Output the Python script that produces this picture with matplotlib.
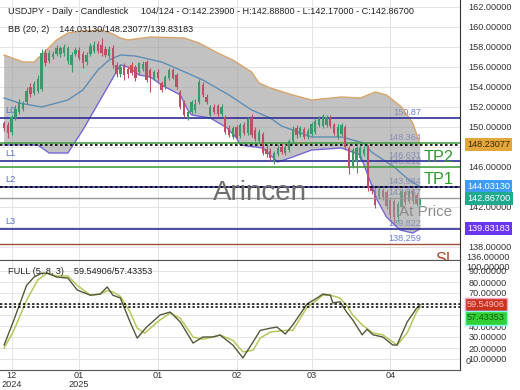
import matplotlib
matplotlib.use("Agg")
import matplotlib.pyplot as plt
from matplotlib.transforms import blended_transform_factory

plt.rcParams['font.family'] = ['Liberation Sans', 'DejaVu Sans']

# daily candles, index = trading day
opens = [150.4, 150.2, 149.5, 150.9, 151.5, 151.8, 152.5, 154.0, 153.4, 153.6,
         153.8, 157.4, 156.6, 157.0, 157.3, 157.3, 157.4, 156.6, 156.2, 157.3,
         157.7, 157.3, 156.5, 157.3, 157.6, 158.3, 158.2, 157.8, 157.1, 157.9,
         156.2, 155.3, 156.1, 155.8, 156.2, 156.0, 155.5, 155.8, 156.5, 155.7,
         154.9, 155.5, 154.4, 154.0, 154.9, 155.7, 155.2, 153.5, 152.5, 150.9,
         151.5, 151.7, 152.5, 154.2, 153.0, 151.2, 152.0, 152.1, 151.3, 151.0,
         149.9, 149.0, 150.0, 149.1, 150.2, 149.4, 150.9, 149.7, 148.6, 149.3,
         147.8, 147.6, 146.6, 147.3, 148.0, 147.4, 147.7, 148.6, 149.9, 149.2,
         149.8, 149.0, 149.3, 149.5, 150.2, 150.1, 150.2, 151.0, 150.2, 149.0,
         149.3, 150.0, 147.9, 146.1, 146.5, 146.9, 147.3, 148.0, 144.0, 143.7,
         143.0, 143.7, 143.5, 142.7, 142.6, 141.0, 142.0, 143.5, 142.6, 143.6,
         143.2, 142.239]
highs = [150.6, 150.5, 151.2, 152.2, 152.8, 152.6, 154.0, 154.4, 154.6, 155.2,
         157.8, 157.8, 157.7, 157.6, 158.2, 158.1, 158.3, 158.1, 157.5, 158.0,
         158.0, 157.6, 157.5, 158.4, 158.6, 158.6, 158.9, 158.1, 158.1, 158.2,
         156.5, 156.3, 156.4, 156.1, 156.5, 156.2, 156.5, 156.6, 156.7, 155.9,
         155.7, 155.8, 154.6, 155.2, 155.9, 155.9, 155.4, 153.7, 152.7, 151.7,
         152.7, 152.8, 154.8, 154.5, 153.3, 152.2, 152.3, 152.3, 152.3, 151.2,
         150.2, 150.1, 150.2, 150.4, 150.5, 151.0, 151.3, 150.0, 149.8, 149.5,
         148.2, 147.9, 147.6, 148.2, 148.3, 148.3, 148.8, 150.1, 150.2, 150.1,
         150.0, 149.9, 150.5, 150.8, 151.1, 151.3, 151.2, 151.2, 150.4, 150.3,
         150.4, 150.2, 148.1, 147.9, 148.1, 148.2, 148.1, 148.2, 144.3, 144.0,
         144.0, 143.9, 143.7, 143.0, 142.8, 142.6, 143.8, 143.7, 143.8, 143.8,
         143.4, 142.888]
lows = [149.6, 148.9, 149.2, 150.7, 151.3, 151.6, 152.3, 153.0, 153.2, 153.4,
        153.6, 156.1, 156.4, 156.8, 157.1, 157.0, 157.1, 156.3, 155.5, 157.1,
        156.7, 155.9, 156.2, 157.1, 157.4, 157.4, 157.1, 157.0, 156.9, 155.9,
        155.0, 155.0, 154.7, 154.9, 155.2, 154.6, 155.3, 155.6, 154.5, 153.5,
        154.7, 154.6, 153.5, 153.8, 154.7, 154.8, 153.8, 151.8, 151.0, 150.7,
        151.3, 151.4, 152.3, 153.0, 152.3, 151.0, 151.3, 151.1, 151.1, 149.3,
        149.0, 148.8, 148.8, 148.9, 149.2, 149.2, 149.0, 148.6, 148.4, 147.2,
        147.0, 146.6, 146.3, 147.1, 147.3, 147.2, 147.5, 148.4, 148.9, 149.0,
        148.8, 148.8, 149.1, 149.3, 150.0, 149.9, 150.0, 149.9, 149.2, 148.8,
        149.1, 147.8, 145.3, 145.9, 145.4, 146.7, 147.1, 143.6, 143.3, 141.9,
        142.8, 142.7, 141.8, 140.8, 140.3, 140.5, 141.8, 142.2, 142.4, 142.3,
        142.1, 142.17]
closes = [149.9, 149.4, 151.0, 151.8, 152.5, 152.3, 153.6, 153.3, 154.3, 154.8,
          157.4, 156.4, 157.4, 157.3, 157.9, 157.9, 158.0, 157.9, 157.2, 157.7,
          156.9, 156.4, 157.2, 158.1, 158.2, 157.6, 157.4, 157.2, 157.8, 156.2,
          155.3, 156.0, 155.2, 155.3, 155.4, 154.9, 156.4, 156.3, 154.7, 154.9,
          155.5, 154.9, 153.7, 155.0, 155.7, 154.9, 154.0, 152.0, 151.2, 151.5,
          152.5, 152.3, 154.5, 153.2, 152.5, 152.0, 151.5, 151.3, 152.0, 149.5,
          149.2, 149.9, 149.0, 150.2, 149.4, 150.8, 149.2, 148.8, 149.5, 147.4,
          147.3, 146.9, 147.4, 147.9, 147.5, 148.0, 148.6, 149.8, 149.2, 149.9,
          149.0, 149.6, 150.3, 150.6, 150.9, 151.1, 151.0, 150.1, 149.4, 150.0,
          150.2, 148.0, 145.9, 147.7, 147.9, 147.9, 147.8, 144.0, 143.6, 142.2,
          143.8, 143.0, 142.1, 141.2, 141.0, 142.3, 143.6, 142.5, 143.6, 142.6,
          142.3, 142.867]
faded_from = 98  # the last candles look washed out under the band

# Bollinger bands (20, 2) read at a few days
upper_days = [0, 5, 8, 10.5, 14, 17, 21, 26, 29, 31, 33, 39, 48, 52, 57, 61,
              66, 68, 71, 77, 82, 90, 95, 99, 102, 106, 109, 111]
upper_vals = [157.2, 156.5, 156.5, 157.4, 158.7, 159.4, 159.6, 159.7, 159.3,
              158.9, 158.7, 159.0, 158.9, 158.4, 157.4, 156.7, 155.5, 154.4,
              153.9, 153.2, 152.7, 153.0, 152.9, 153.5, 153.2, 152.0, 150.4,
              148.23]
mid_days = [0, 4, 10, 17, 21, 25, 28, 31, 35, 42, 47, 53, 60, 66, 71, 74, 77,
            82, 86, 90, 96, 98, 104, 108, 111]
mid_vals = [152.9, 152.4, 152.0, 152.7, 153.7, 155.7, 156.7, 157.2, 157.1,
            156.5, 155.7, 154.7, 153.2, 151.7, 150.9, 150.1, 149.7, 149.0,
            149.0, 149.0, 148.4, 147.5, 146.0, 144.7, 144.03]
lower_days = [0, 9, 12, 17, 21, 31, 33, 36, 39, 42, 47, 49, 50, 55, 59.5, 62,
              63, 69, 73, 77, 82, 90, 95, 99.5, 102, 105.6, 109, 111]
lower_vals = [148.2, 148.2, 147.4, 147.4, 149.7, 156.2, 156.0, 155.2, 155.0,
              154.2, 153.2, 151.7, 151.2, 150.9, 149.9, 148.9, 148.2, 147.9,
              146.5, 147.0, 147.7, 147.9, 147.2, 142.7, 141.0, 139.7, 139.4,
              139.83]
bb_now = [148.23077, 144.03130, 139.83183]
last_close = 142.867

# stochastic FULL (5, 8, 3)
k_days = [0, 2.4, 6, 8, 10, 11.5, 14, 17, 19.5, 23, 25.6, 27.5, 29, 31, 33.6,
          35.5, 38, 41.6, 44.3, 47, 50.4, 53, 55.7, 57.6, 61, 63.7, 66.4, 68.3,
          71, 72.8, 75, 77, 80.8, 83.5, 85, 87, 87.7, 89.6, 91.5, 93, 95.5,
          96.8, 98.4, 101, 103.7, 104.8, 107.5, 110, 111]
k_vals = [22.7, 43.6, 77, 84.5, 88, 88, 84.5, 83.6, 72.7, 68, 69, 75.5, 68,
          65.5, 43.6, 29, 39, 50, 52.7, 43.6, 24.5, 30, 30, 31.8, 22.7, 11,
          25.5, 36, 38, 39, 32.7, 41, 60, 65.5, 69, 68, 61, 62, 52, 45.5, 32,
          37, 32, 30, 22.7, 22.7, 43.6, 56, 59.54906]
d_days = [0, 2.4, 6, 9, 11.5, 14, 17, 19.5, 23, 25.6, 27.5, 29, 31, 33.6, 35.5,
          37.5, 41.6, 44.3, 47, 50.4, 53, 55.7, 57.6, 61, 63.7, 66.4, 68.3, 71,
          75, 77, 80.8, 83.5, 85, 87, 89.6, 91.5, 93, 95.5, 98.4, 101, 103.7,
          104.8, 107.5, 110, 111]
d_vals = [20, 34.5, 63.6, 82, 88, 85.5, 85.5, 77, 68, 69, 72, 71, 67, 52.7, 38,
          33.6, 45.5, 51.8, 47, 30, 28, 30, 31.8, 27, 16.4, 18, 29, 34.5, 36,
          36, 57, 63.6, 68, 68, 65.5, 58, 50, 41, 33.6, 32, 25.5, 22.7, 33.6,
          52.7, 57.43353]

# levels
l_levels = [150.87, 146.631, 143.984, 139.822]
l_names = ['L0', 'L1', 'L2', 'L3']
tp_levels = [148.364, 146.012]
sl_level = 138.259
level_texts = ['150.87', '148.364', '146.631', '146.012', '143.984', '142.867',
               '139.822', '138.259']
level_vals = [150.87, 148.364, 146.631, 146.012, 143.984, 142.867, 139.822,
              138.259]

month_days = [2, 20, 41, 62, 82, 103]
month_labels = ['12\n2024', '01\n2025', '01', '02', '03', '04']
price_ticks = list(range(138, 163, 2))
stoch_ticks = list(range(10, 100, 10))

fs = 6.6
fig = plt.figure(figsize=(5.2, 3.9), dpi=100)
ax = fig.add_axes([0, 130 / 390, 460 / 520, 260 / 390])
ax2 = fig.add_axes([0, 20 / 390, 460 / 520, 110 / 390])

for a in (ax, ax2):
    a.set_xlim(-1.1, 121.6)
    a.spines['left'].set_visible(False)
    a.spines['top'].set_visible(False)
    a.spines['right'].set_color('#333333')
    a.spines['bottom'].set_color('#555555')
    a.yaxis.tick_right()
    a.tick_params(axis='y', length=0, pad=6, labelsize=fs, labelcolor='#333333')
    a.set_xticks(month_days)
    a.grid(color='#e4e4e4', lw=0.7)
    a.set_axisbelow(True)

# ---- price panel
ax.set_ylim(136.7, 162.7)
ax.set_yticks(price_ticks)
ax.set_yticklabels([f"{v:.5f}" for v in price_ticks])
ax.tick_params(axis='x', length=0, labelbottom=False)
ytr = blended_transform_factory(ax.transAxes, ax.transData)
ax.annotate("136.00000", xy=(1, 137.0), xycoords=ytr, xytext=(6, 0),
            textcoords='offset pixels', ha='left', va='center', fontsize=fs,
            color='#333333', annotation_clip=False)

# level labels (under the band)
for v, t in zip(level_vals, level_texts):
    ax.annotate(t, xy=(111.3, v), xytext=(0, 1), textcoords='offset pixels',
                ha='right', va='bottom', fontsize=fs, color='#6b80d8', zorder=1)

# candles
up_col, dn_col = '#3a9a6a', '#c24d66'
days = list(range(len(closes)))
cols = [up_col if c >= o else dn_col for o, c in zip(opens, closes)]
bottoms = [min(o, c) for o, c in zip(opens, closes)]
bodies = [max(abs(c - o), 0.08) for o, c in zip(opens, closes)]
for part, z in ((slice(0, faded_from), 5), (slice(faded_from, None), 1.5)):
    ax.vlines(days[part], lows[part], highs[part], colors=cols[part],
              lw=0.8, zorder=z)
    ax.bar(days[part], bodies[part], bottom=bottoms[part], width=0.62,
           color=cols[part], zorder=z)

# bollinger band
ax.fill(upper_days + lower_days[::-1], upper_vals + lower_vals[::-1],
        fc='#9a9a9a', alpha=0.6, ec='none', zorder=2)
ax.plot(upper_days, upper_vals, color='#d9a46a', lw=1.0, zorder=3)
ax.plot(lower_days, lower_vals, color='#7468d8', lw=1.0, zorder=3)
ax.plot(mid_days, mid_vals, color='#5f8db5', lw=1.0, zorder=3)

# horizontal levels
for v, nm in zip(l_levels, l_names):
    ax.axhline(v, color='#2e2e96', lw=1.2, zorder=3)
    ax.annotate(nm, xy=(0.012, v), xycoords=ytr, xytext=(0, 3),
                textcoords='offset pixels', ha='left', va='bottom',
                fontsize=fs, color='#5a6fc8', zorder=3)
for v in tp_levels:
    ax.axhline(v, color='#3a9a3a', lw=1.1, zorder=3)
ax.axhline(last_close, color='#999999', lw=1.0, zorder=3)
ax.axhline(sl_level, color='#a0503a', lw=1.0, zorder=3)
for v in bb_now[:2]:
    ax.axhline(v, color='black', lw=1.2, ls=(0, (1.5, 1.5)), zorder=3.5)

# texts
ax.text(0.565, 0.258, 'Arincen', transform=ax.transAxes, fontsize=20,
        color='#6e6e6e', ha='center', va='center', zorder=6)
ax.text(0.926, 0.185, 'At Price', transform=ax.transAxes, fontsize=10.9,
        color='#8a8a8a', ha='center', va='center', zorder=6)
ax.text(0.92, 0.396, 'TP2', transform=ax.transAxes, fontsize=11.7,
        color='#2f9a2f', ha='left', va='center', zorder=6)
ax.text(0.92, 0.308, 'TP1', transform=ax.transAxes, fontsize=11.7,
        color='#2f9a2f', ha='left', va='center', zorder=6)
ax.text(0.946, 0.0, 'SL', transform=ax.transAxes, fontsize=11.7,
        color='#b04a30', ha='left', va='center', zorder=6, clip_on=True)
ax.text(0.017, 0.954, 'USDJPY - Daily - Candlestick     104/124 - O:142.23900 - '
        'H:142.88800 - L:142.17000 - C:142.86700', transform=ax.transAxes,
        fontsize=fs, color='#222222', va='center', zorder=6)
ax.text(0.017, 0.885, 'BB (20, 2)    144.03130/148.23077/139.83183',
        transform=ax.transAxes, fontsize=fs, color='#222222', va='center',
        zorder=6)

# value boxes on the right axis
boxes = [(bb_now[0], '#e2a63a', '#3a2800'), (bb_now[1], '#3d9cf5', 'white'),
         (last_close, '#1fa98e', 'white'), (bb_now[2], '#6a35f0', 'white')]
for v, fc, tc in boxes:
    ax.annotate(f"{v:.5f}", xy=(1, v), xycoords=ytr, xytext=(7, 0),
                textcoords='offset pixels', ha='left', va='center',
                fontsize=fs, color=tc, annotation_clip=False, zorder=7,
                bbox=dict(boxstyle='square,pad=0.25', fc=fc, ec='none'))

# ---- stochastic panel
ax2.set_ylim(0, 100)
ax2.set_yticks(stoch_ticks)
ax2.set_yticklabels([f"{v:.5f}" for v in stoch_ticks])
ax2.set_xticklabels(month_labels, linespacing=1.0)
ax2.tick_params(axis='x', length=0, pad=1, labelsize=fs, labelcolor='#333333')
ax2.spines['top'].set_visible(True)
ax2.spines['top'].set_color('#555555')
ytr2 = blended_transform_factory(ax2.transAxes, ax2.transData)
ax2.annotate("100.00000", xy=(1, 93), xycoords=ytr2, xytext=(6, 0),
             textcoords='offset pixels', ha='left', va='center', fontsize=fs,
             color='#333333', annotation_clip=False)
ax2.annotate("0", xy=(1, 7.3), xycoords=ytr2, xytext=(6, 0),
             textcoords='offset pixels', ha='left', va='center', fontsize=fs,
             color='#333333', annotation_clip=False)

ax2.plot(d_days, d_vals, color='#b3c95a', lw=1.1)
ax2.plot(k_days, k_vals, color='#57573c', lw=1.0)
for v in (k_vals[-1], d_vals[-1]):
    ax2.axhline(v, color='black', lw=1.1, ls=(0, (1.5, 1.5)))
ax2.text(0.017, 0.9, 'FULL (5, 8, 3)    59.54906/57.43353',
         transform=ax2.transAxes, fontsize=fs, color='#222222', va='center')
ax2.annotate(f"{k_vals[-1]:.5f}", xy=(1, k_vals[-1]), xycoords=ytr2,
             xytext=(7, 0), textcoords='offset pixels', ha='left', va='center',
             fontsize=fs, color='#ffc0c0', annotation_clip=False,
             bbox=dict(boxstyle='square,pad=0.25', fc='#c8321e', ec='#f4a0c0'))
ax2.annotate(f"{d_vals[-1]:.5f}", xy=(1, d_vals[-1]), xycoords=ytr2,
             xytext=(7, -11), textcoords='offset pixels', ha='left',
             va='center', fontsize=fs, color='#145a14', annotation_clip=False,
             bbox=dict(boxstyle='square,pad=0.25', fc='#33d033', ec='#80ffff'))

fig.savefig('out.png', dpi=100)
